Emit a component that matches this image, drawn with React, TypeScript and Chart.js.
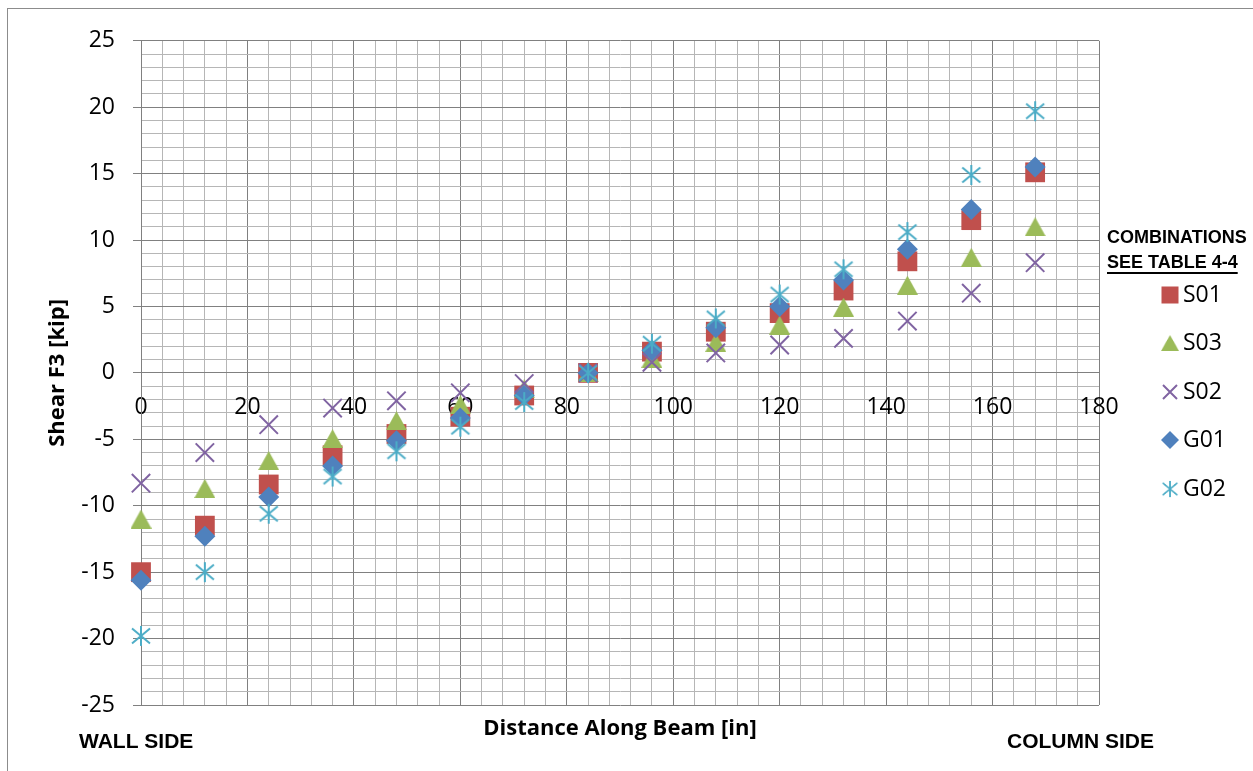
import React, { useEffect, useRef } from 'react';
import { Chart, registerables } from 'chart.js';

Chart.register(...registerables);

// ---- Data ----
const distances = [0, 12, 24, 36, 48, 60, 72, 84, 96, 108, 120, 132, 144, 156, 168];
const s01 = [-15.0, -11.5, -8.4, -6.2, -4.6, -3.3, -1.7, 0, 1.6, 3.1, 4.5, 6.2, 8.4, 11.5, 15.1];
const s03 = [-11.0, -8.7, -6.6, -4.95, -3.6, -2.4, -1.2, 0, 1.1, 2.3, 3.6, 4.95, 6.6, 8.7, 11.0];
const s02 = [-8.3, -6.0, -3.9, -2.65, -2.1, -1.5, -0.8, 0, 0.8, 1.5, 2.1, 2.6, 3.9, 6.0, 8.3];
const g01 = [-15.6, -12.3, -9.35, -7.0, -5.1, -3.4, -1.7, 0, 1.7, 3.4, 5.0, 7.0, 9.3, 12.3, 15.5];
const g02 = [-19.8, -15.0, -10.6, -7.8, -5.9, -4.05, -2.2, 0, 2.2, 4.1, 5.9, 7.8, 10.6, 14.9, 19.7];

const seriesNames = ['S01', 'S03', 'S02', 'G01', 'G02'];
const seriesValues = [s01, s03, s02, g01, g02];
const seriesColors = ['#C0504D', '#9BBB59', '#8064A2', '#4F81BD', '#4BACC6'];

const xMajorTicks = [0, 20, 40, 60, 80, 100, 120, 140, 160, 180];
const yMajorTicks = [-25, -20, -15, -10, -5, 0, 5, 10, 15, 20, 25];

const xTitle = 'Distance Along Beam [in]';
const yTitle = 'Shear F3 [kip]';
const leftNote = 'WALL SIDE';
const rightNote = 'COLUMN SIDE';
const legendHeader = ['COMBINATIONS', 'SEE TABLE 4-4'];

const MAJOR = '#808080';
const MINOR = '#B6B6B6';
const TICK_FONT = "'Open Sans', sans-serif";

const isIn = (arr: number[], v: number) => arr.some((t) => Math.abs(t - v) < 1e-6);

function makeTriangle(color: string, w: number, h: number) {
  const c = document.createElement('canvas');
  c.width = w;
  c.height = h;
  const g = c.getContext('2d')!;
  g.fillStyle = color;
  g.beginPath();
  g.moveTo(w / 2, 0);
  g.lineTo(w, h);
  g.lineTo(0, h);
  g.closePath();
  g.fill();
  return c;
}

function makeStar(color: string, size: number) {
  const c = document.createElement('canvas');
  c.width = size;
  c.height = size;
  const g = c.getContext('2d')!;
  const m = size / 2;
  g.strokeStyle = color;
  g.lineWidth = 2;
  g.lineCap = 'butt';
  g.beginPath();
  g.moveTo(m, 1);
  g.lineTo(m, size - 1);
  const a = m - 2;
  const b = m - 3.5;
  g.moveTo(m - a, m - b);
  g.lineTo(m + a, m + b);
  g.moveTo(m - a, m + b);
  g.lineTo(m + a, m - b);
  g.stroke();
  return c;
}

export default function App() {
  const ref = useRef<HTMLCanvasElement | null>(null);

  useEffect(() => {
    const canvas = ref.current;
    if (!canvas) return;

    const tri = makeTriangle(seriesColors[1], 21, 19);
    const star = makeStar(seriesColors[4], 22);

    const styles: any[] = ['rect', tri, 'crossRot', 'rectRot', star];
    const radii = [14, 10, 13, 10.5, 10];

    const datasets = seriesNames.map((name, i) => ({
      label: name,
      data: distances.map((x, j) => ({ x, y: seriesValues[i][j] })),
      pointStyle: styles[i],
      pointRadius: radii[i],
      pointHoverRadius: radii[i],
      backgroundColor: seriesColors[i],
      borderColor: seriesColors[i],
      pointBorderWidth: i === 2 ? 2 : 0,
      showLine: false,
      clip: false as any,
      order: seriesNames.length - i,
    }));

    const textPlugin = {
      id: 'extraText',
      afterDraw(chart: any) {
        const ctx = chart.ctx as CanvasRenderingContext2D;
        const area = chart.chartArea;
        ctx.save();
        ctx.fillStyle = '#000';
        ctx.textBaseline = 'middle';

        // x-axis title
        ctx.font = "bold 22px 'Open Sans', sans-serif";
        ctx.textAlign = 'center';
        ctx.fillText(xTitle, (area.left + area.right) / 2, 720);

        // side notes
        ctx.font = "bold 21px 'Liberation Sans', Arial, sans-serif";
        ctx.textAlign = 'left';
        ctx.fillText(leftNote, 71, 733);
        ctx.fillText(rightNote, 999, 733);

        // legend header
        ctx.font = "bold 18px 'Liberation Sans', Arial, sans-serif";
        ctx.fillText(legendHeader[0], 1099, 229);
        ctx.fillText(legendHeader[1], 1099, 254);
        const w = ctx.measureText(legendHeader[1]).width;
        ctx.fillRect(1099, 263, w, 2);

        // legend items
        const ys = [286, 334, 383, 431, 480];
        const mx = 1162;
        ctx.font = `23px ${TICK_FONT}`;
        seriesNames.forEach((name, i) => {
          const y = ys[i];
          const col = seriesColors[i];
          ctx.fillStyle = col;
          ctx.strokeStyle = col;
          if (i === 0) {
            ctx.fillRect(mx - 8.5, y - 8.5, 17, 17);
          } else if (i === 1) {
            ctx.drawImage(tri, mx - 9, y - 8, 18, 16);
          } else if (i === 2) {
            ctx.lineWidth = 2;
            ctx.beginPath();
            ctx.moveTo(mx - 7, y - 7);
            ctx.lineTo(mx + 7, y + 7);
            ctx.moveTo(mx - 7, y + 7);
            ctx.lineTo(mx + 7, y - 7);
            ctx.stroke();
          } else if (i === 3) {
            ctx.beginPath();
            ctx.moveTo(mx, y - 9);
            ctx.lineTo(mx + 9, y);
            ctx.lineTo(mx, y + 9);
            ctx.lineTo(mx - 9, y);
            ctx.closePath();
            ctx.fill();
          } else {
            ctx.drawImage(star, mx - 9, y - 9, 18, 18);
          }
          ctx.fillStyle = '#000';
          ctx.textAlign = 'left';
          ctx.fillText(name, 1175, y);
        });
        ctx.restore();
      },
    };

    const chart = new Chart(canvas, {
      type: 'scatter',
      data: { datasets: datasets as any },
      options: {
        responsive: false,
        animation: false,
        devicePixelRatio: 1,
        layout: { padding: { top: 29, right: 154, bottom: 66, left: 0 } },
        plugins: {
          legend: { display: false },
          tooltip: { enabled: false },
        },
        scales: {
          x: {
            type: 'linear',
            position: { y: 0 } as any,
            min: 0,
            max: 180,
            ticks: {
              stepSize: 4,
              autoSkip: false,
              maxRotation: 0,
              padding: 21,
              color: '#000',
              font: { family: TICK_FONT, size: 23 },
              callback: (v: any) => (isIn(xMajorTicks, Number(v)) ? String(Math.round(Number(v))) : ''),
            },
            grid: {
              color: (c: any) => (c.tick && isIn(xMajorTicks, c.tick.value) ? MAJOR : MINOR),
              lineWidth: 1,
              drawTicks: false,
              tickLength: 0,
            },
            border: { color: MAJOR, width: 1 },
          },
          y: {
            type: 'linear',
            position: 'left',
            min: -25,
            max: 25,
            afterFit: (scale: any) => {
              scale.width = 133;
            },
            ticks: {
              stepSize: 1,
              autoSkip: false,
              padding: 18,
              color: '#000',
              font: { family: TICK_FONT, size: 23 },
              callback: (v: any) => (isIn(yMajorTicks, Number(v)) ? String(Math.round(Number(v))) : ''),
            },
            grid: {
              color: (c: any) => (c.tick && isIn(yMajorTicks, c.tick.value) ? MAJOR : MINOR),
              tickColor: (c: any) => (c.tick && isIn(yMajorTicks, c.tick.value) ? MAJOR : 'rgba(0,0,0,0)'),
              lineWidth: 1,
              tickLength: 8,
            },
            border: { color: MAJOR, width: 1 },
            title: {
              display: true,
              text: yTitle,
              color: '#000',
              font: { family: TICK_FONT, size: 22, weight: 'bold' },
              padding: { top: 36.8, bottom: 0 },
            },
          },
        },
      },
      plugins: [textPlugin],
    });

    return () => {
      chart.destroy();
    };
  }, []);

  return (
    <div
      style={{
        position: 'fixed',
        left: 7,
        top: 8,
        width: 1246,
        height: 763,
        borderTop: '1px solid #8c8c8c',
        borderLeft: '1px solid #8c8c8c',
        background: '#fff',
      }}
    >
      <canvas ref={ref} width={1245} height={762} style={{ display: 'block', width: 1245, height: 762 }} />
    </div>
  );
}
